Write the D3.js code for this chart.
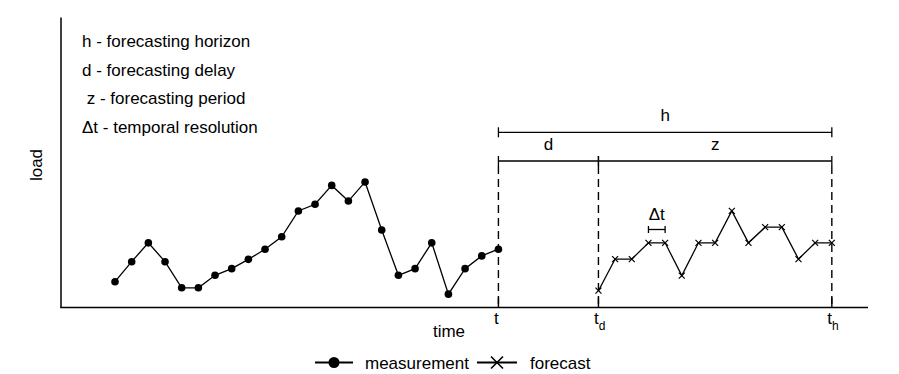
<!DOCTYPE html>
<html>
<head>
<meta charset="utf-8">
<script src="https://cdn.jsdelivr.net/npm/d3@7"></script>
<style>
	html, body {margin: 0; background: #fff; overflow: hidden}
	text {font-family: "Liberation Sans", Arial, sans-serif; fill: #000}
</style>
</head>
<body>
<script>
	// measured load, one point per time step (index 0..23)
	var measurement = [8.9, 15.8, 22.3, 15.8, 6.8, 6.8, 11.1, 13.4, 16.6, 20.1, 24.4, 33.3,
		35.6, 42.1, 36.7, 43.3, 26.7, 11.1, 13.4, 22.3, 4.6, 13.4, 17.8, 20.1];
	// forecast load, time steps 29..43
	var forecast = [5.8, 16.7, 16.7, 22.3, 22.3, 11.0, 22.3, 22.3, 33.3, 22.3, 27.7, 27.7, 16.7, 22.3, 22.3];
	var forecastStart = 29;

	var marks = [{name: "t", sub: "", i: 23}, {name: "t", sub: "d", i: 29}, {name: "t", sub: "h", i: 43}];
	var spans = [
		{label: "h", from: 23, to: 43, row: 0},
		{label: "d", from: 23, to: 29, row: 1},
		{label: "z", from: 29, to: 43, row: 1}
	];
	var notes = ["h - forecasting horizon", "d - forecasting delay", " z - forecasting period", "\u0394t - temporal resolution"];

	var width = 899, height = 374;
	var fs = 17;

	var x = d3.scaleLinear().domain([-3.24, 45.17]).range([61, 868]);
	var y = d3.scaleLinear().domain([0, 100]).range([307.5, 17.5]);

	var svg = d3.select("body").append("svg")
		.attr("width", width)
		.attr("height", height);

	// axes (plain lines, no ticks)
	svg.append("line")
		.attr("x1", x.range()[0]).attr("x2", x.range()[0])
		.attr("y1", y(0)).attr("y2", y(100))
		.attr("stroke", "#000").attr("stroke-width", 1.5);
	svg.append("line")
		.attr("x1", x.range()[0] - 0.75).attr("x2", x.range()[1])
		.attr("y1", y(0)).attr("y2", y(0))
		.attr("stroke", "#000").attr("stroke-width", 1.5);

	svg.append("text")
		.attr("transform", "translate(42," + 165 + ")rotate(-90)")
		.attr("text-anchor", "middle")
		.attr("font-size", fs)
		.text("load");
	svg.append("text")
		.attr("x", 449).attr("y", 337)
		.attr("text-anchor", "middle")
		.attr("font-size", fs)
		.text("time");

	// notes top left
	svg.selectAll(".note")
		.data(notes)
		.enter().append("text")
		.attr("class", "note")
		.attr("x", 82)
		.attr("y", function(d, i){ return 47 + i * 28.7; })
		.attr("font-size", fs)
		.style("white-space", "pre")
		.text(function(d){ return d; });

	// dashed verticals and ticks
	var mk = svg.append("g").selectAll("g")
		.data(marks)
		.enter().append("g");
	mk.append("line")
		.attr("x1", function(d){ return x(d.i); })
		.attr("x2", function(d){ return x(d.i); })
		.attr("y1", 166).attr("y2", y(0))
		.attr("stroke", "#000").attr("stroke-width", 1.4)
		.attr("stroke-dasharray", "8,5");
	mk.append("line")
		.attr("x1", function(d){ return x(d.i); })
		.attr("x2", function(d){ return x(d.i); })
		.attr("y1", y(0) - 10).attr("y2", y(0))
		.attr("stroke", "#000").attr("stroke-width", 1.4);
	var lab = mk.append("text")
		.attr("x", function(d){ return x(d.i) - 4.5; })
		.attr("y", 324)
		.attr("font-size", fs);
	lab.append("tspan").text(function(d){ return d.name; });
	lab.append("tspan")
		.attr("dy", 6)
		.attr("font-size", 12)
		.text(function(d){ return d.sub; });

	// span brackets
	var rowY = [132.3, 161];
	var sp = svg.append("g").selectAll("g")
		.data(spans)
		.enter().append("g");
	sp.append("line")
		.attr("x1", function(d){ return x(d.from); })
		.attr("x2", function(d){ return x(d.to); })
		.attr("y1", function(d){ return rowY[d.row]; })
		.attr("y2", function(d){ return rowY[d.row]; })
		.attr("stroke", "#000").attr("stroke-width", 1.3);
	["from", "to"].forEach(function(k){
		sp.append("line")
			.attr("x1", function(d){ return x(d[k]); })
			.attr("x2", function(d){ return x(d[k]); })
			.attr("y1", function(d){ return rowY[d.row] - 5; })
			.attr("y2", function(d){ return rowY[d.row] + 5; })
			.attr("stroke", "#000").attr("stroke-width", 1.3);
	});
	sp.append("text")
		.attr("x", function(d){ return (x(d.from) + x(d.to)) / 2; })
		.attr("y", function(d){ return rowY[d.row] - 11; })
		.attr("text-anchor", "middle")
		.attr("font-size", fs)
		.text(function(d){ return d.label; });

	// delta t bracket over one forecast step
	var dt0 = forecastStart + 3, dt1 = forecastStart + 4;
	svg.append("line")
		.attr("x1", x(dt0)).attr("x2", x(dt1))
		.attr("y1", 229.5).attr("y2", 229.5)
		.attr("stroke", "#000").attr("stroke-width", 1.3);
	[dt0, dt1].forEach(function(v){
		svg.append("line")
			.attr("x1", x(v)).attr("x2", x(v))
			.attr("y1", 226).attr("y2", 233)
			.attr("stroke", "#000").attr("stroke-width", 1.3);
	});
	svg.append("text")
		.attr("x", (x(dt0) + x(dt1)) / 2)
		.attr("y", 220)
		.attr("text-anchor", "middle")
		.attr("font-size", fs)
		.text("\u0394t");

	// measurement series
	var line = d3.line()
		.x(function(d){ return x(d.i); })
		.y(function(d){ return y(d.v); });

	var mData = measurement.map(function(v, i){ return {i: i, v: v}; });
	var fData = forecast.map(function(v, i){ return {i: forecastStart + i, v: v}; });

	svg.append("path")
		.attr("d", line(mData))
		.attr("fill", "none").attr("stroke", "#000").attr("stroke-width", 1.3);
	svg.selectAll(".dot")
		.data(mData)
		.enter().append("circle")
		.attr("class", "dot")
		.attr("cx", function(d){ return x(d.i); })
		.attr("cy", function(d){ return y(d.v); })
		.attr("r", 3.8)
		.attr("fill", "#000");

	// forecast series
	svg.append("path")
		.attr("d", line(fData))
		.attr("fill", "none").attr("stroke", "#000").attr("stroke-width", 1.3);
	var cross = function(cx, cy, s){
		return "M" + (cx - s) + "," + (cy - s) + "L" + (cx + s) + "," + (cy + s) +
			"M" + (cx - s) + "," + (cy + s) + "L" + (cx + s) + "," + (cy - s);
	};
	svg.selectAll(".cross")
		.data(fData)
		.enter().append("path")
		.attr("class", "cross")
		.attr("d", function(d){ return cross(x(d.i), y(d.v), 3); })
		.attr("stroke", "#000").attr("stroke-width", 1.2);

	// legend
	var lg = svg.append("g").attr("transform", "translate(0,362.5)");
	lg.append("line").attr("x1", 315).attr("x2", 353).attr("y1", 0).attr("y2", 0)
		.attr("stroke", "#000").attr("stroke-width", 1.8);
	lg.append("circle").attr("cx", 334).attr("cy", 0).attr("r", 5.5).attr("fill", "#000");
	lg.append("text").attr("x", 365).attr("y", 6).attr("font-size", fs).text("measurement");
	lg.append("line").attr("x1", 477).attr("x2", 517).attr("y1", 0).attr("y2", 0)
		.attr("stroke", "#000").attr("stroke-width", 1.8);
	lg.append("path").attr("d", cross(497, 0, 6)).attr("stroke", "#000").attr("stroke-width", 1.6);
	lg.append("text").attr("x", 530).attr("y", 6).attr("font-size", fs).text("forecast");
</script>
</body>
</html>
